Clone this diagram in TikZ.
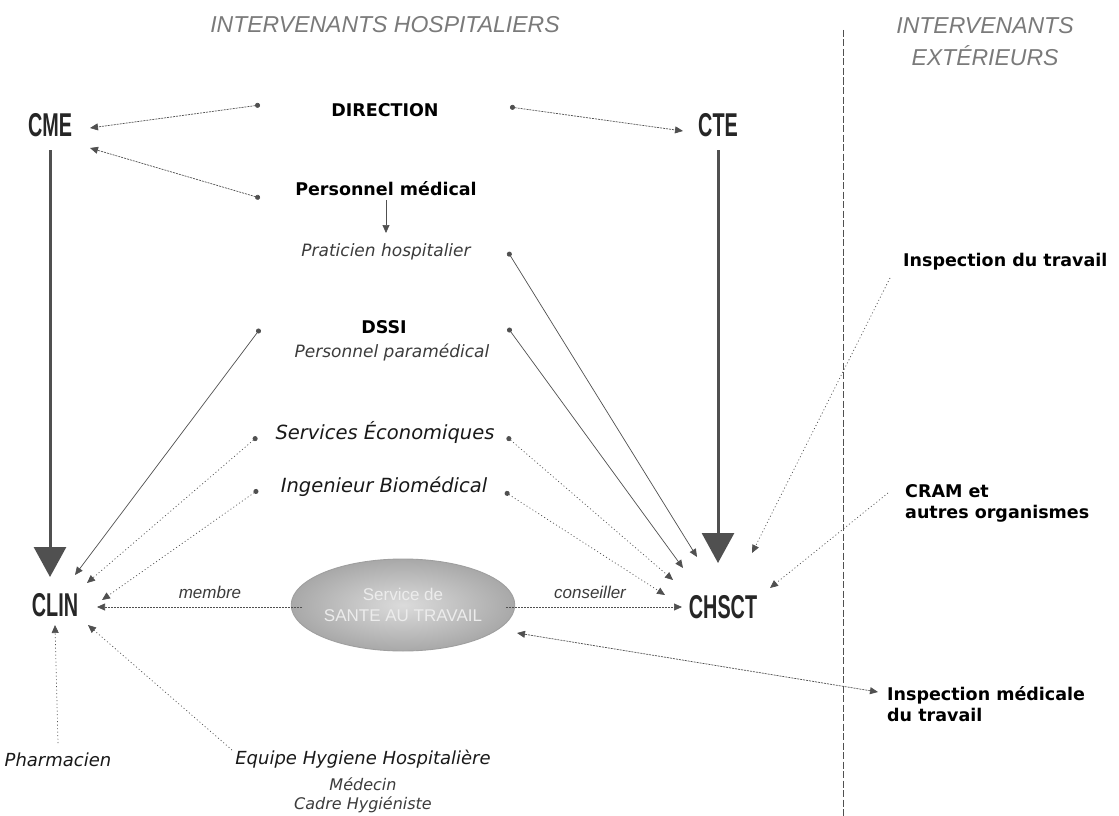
\documentclass[tikz,border=0pt]{standalone}
\usepackage{fontspec}
\setmainfont{Liberation Sans}
\newfontfamily\dvs{DejaVu Sans}
\usetikzlibrary{arrows.meta,shapes.geometric}
\definecolor{ln}{HTML}{505050}
\definecolor{txtgray}{HTML}{3C3C3C}
\definecolor{hdrgray}{HTML}{7A7A7A}
\tikzset{
  bl/.style={font=\dvs\bfseries\fontsize{17.5}{21}\selectfont, text=black, inner sep=0pt},
  blL/.style={bl, anchor=west, align=left},
  itl/.style={font=\dvs\itshape\fontsize{17}{20}\selectfont, text=txtgray, inner sep=0pt},
  itd/.style={font=\dvs\itshape\fontsize{19.5}{22}\selectfont, text=black!90, inner sep=0pt},
  hdr/.style={font=\itshape\fontsize{23}{32}\selectfont, text=hdrgray, inner sep=0pt, align=center},
  big/.style={font=\bfseries\fontsize{33}{36}\selectfont, text=black!85, inner sep=0pt},
  thin/.style={draw=ln, line width=0.7pt},
  fdash/.style={thin, dash pattern=on 2pt off 1pt},
  dots/.style={thin, dash pattern=on 1pt off 2.5pt},
  tip/.style={-{Triangle[length=8pt,width=7pt]}},
  dtip/.style={{Circle[length=5pt]}-{Triangle[length=8pt,width=7pt]}},
  ttip/.style={{Triangle[length=8pt,width=7pt]}-{Triangle[length=8pt,width=7pt]}},
  bigarrow/.style={draw=ln, line width=3pt, -{Triangle[length=30pt,width=32pt]}},
}
\begin{document}
\begin{tikzpicture}[x=1pt,y=-1pt]
\useasboundingbox[fill=white] (0,0) rectangle (1119,816);

% headers
\node[hdr] (hh) at (385,25) {INTERVENANTS HOSPITALIERS};
\node[hdr] (he) at (985,42) {INTERVENANTS\\EXTÉRIEURS};
\coordinate (divT) at (843,30);
\coordinate (divB) at (843,816);
\draw[draw=ln, line width=1pt, dash pattern=on 7pt off 2.5pt] (divT) -- (divB);

% middle column
\node[bl] (dir) at (385,110) {DIRECTION};
\node[bl] (pm) at (386,189) {Personnel médical};
\node[itl] (ph) at (386,252) {Praticien hospitalier};
\node[bl] (dssi) at (384,327) {DSSI};
\node[itl] (ppm) at (392,352) {Personnel paramédical};
\node[itd] (se) at (385,432) {Services Économiques};
\node[itd] (ib) at (384,487) {Ingenieur Biomédical};

% big labels
\node[big] (cme) at (50,125) {\scalebox{0.6}[1]{CME}};
\node[big] (cte) at (718,125) {\scalebox{0.6}[1]{CTE}};
\node[big] (clin) at (55,605) {\scalebox{0.6}[1]{CLIN}};
\node[big] (chsct) at (723,607) {\scalebox{0.6}[1]{CHSCT}};

% ellipse
\node[ellipse, minimum width=202pt, minimum height=92pt, draw=gray!75, line width=0.9pt,
      shading=radial, inner color=gray!28, outer color=gray!68,
      font=\fontsize{17}{21}\selectfont, text=gray!15, align=center, inner sep=0pt]
      (sat) at (403,605) {Service de\\SANTE AU TRAVAIL};
\node[font=\itshape\fontsize{17}{20}\selectfont, text=txtgray, inner sep=0pt] (mb) at (210,592) {membre};
\node[font=\itshape\fontsize{17}{20}\selectfont, text=txtgray, inner sep=0pt] (cs) at (590,592) {conseiller};

% right column
\node[blL] (it) at (903,262) {Inspection du travail};
\node[blL] (cram) at (905,503) {CRAM et\\autres organismes};
\node[blL] (imt) at (887,704) {Inspection médicale\\du travail};

% bottom
\node[itd, font=\dvs\itshape\fontsize{18}{22}\selectfont] (pha) at (58,760) {Pharmacien};
\node[itd, font=\dvs\itshape\fontsize{18}{22}\selectfont] (ehh) at (363,759) {Equipe Hygiene Hospitalière};
\node[itl, font=\dvs\itshape\fontsize{16}{19}\selectfont] (med) at (363,784) {Médecin};
\node[itl, font=\dvs\itshape\fontsize{16}{19}\selectfont] (cad) at (363,805) {Cadre Hygiéniste};

% coordinates for connector ends
\coordinate (dirL) at (260,105);
\coordinate (dirR) at (510,107);
\coordinate (pmL) at (260,198);
\coordinate (phR) at (508,252);
\coordinate (dsL) at (260,329);
\coordinate (dsR) at (508,328);
\coordinate (seL) at (257,437);
\coordinate (seR) at (507,437);
\coordinate (ibL) at (258,490);
\coordinate (ibR) at (505,492);
\coordinate (cmeA) at (90,128);
\coordinate (cmeB) at (90,148);
\coordinate (cteA) at (683,131);
\coordinate (cmeS) at (50,150);
\coordinate (clinT) at (50,577);
\coordinate (cteS) at (718,150);
\coordinate (chT) at (718,563);
\coordinate (clA) at (75,575);
\coordinate (clB) at (87,583);
\coordinate (clC) at (102,600);
\coordinate (clD) at (55,625);
\coordinate (clE) at (88,625);
\coordinate (clM) at (97,607);
\coordinate (chA) at (697,557);
\coordinate (chB) at (683,568);
\coordinate (chC) at (673,580);
\coordinate (chD) at (665,595);
\coordinate (chE) at (752,553);
\coordinate (chF) at (770,588);
\coordinate (chM) at (682,607);
\coordinate (satL) at (302,607);
\coordinate (satR) at (506,607);
\coordinate (satB) at (517,633);
\coordinate (itS) at (890,278);
\coordinate (crS) at (888,493);
\coordinate (imS) at (878,692);
\coordinate (phaS) at (58,743);
\coordinate (ehS) at (232,750);
\coordinate (pmB) at (386,200);
\coordinate (phT) at (386,233);

% connectors
\draw[fdash, dtip] (dirL) -- (cmeA);
\draw[fdash, dtip] (pmL) -- (cmeB);
\draw[fdash, dtip] (dirR) -- (cteA);
\draw[thin, tip] (pmB) -- (phT);
\draw[bigarrow] (cmeS) -- (clinT);
\draw[bigarrow] (cteS) -- (chT);
\draw[thin, dtip] (phR) -- (chA);
\draw[thin, dtip] (dsR) -- (chB);
\draw[dots, dtip] (seR) -- (chC);
\draw[dots, dtip] (ibR) -- (chD);
\draw[thin, dtip] (dsL) -- (clA);
\draw[dots, dtip] (seL) -- (clB);
\draw[dots, dtip] (ibL) -- (clC);
\draw[dots, tip] (itS) -- (chE);
\draw[dots, tip] (crS) -- (chF);
\draw[fdash, tip] (satL) -- (clM);
\draw[fdash, tip] (satR) -- (chM);
\draw[fdash, ttip] (imS) -- (satB);
\draw[dots, tip] (phaS) -- (clD);
\draw[dots, tip] (ehS) -- (clE);
\end{tikzpicture}
\end{document}
